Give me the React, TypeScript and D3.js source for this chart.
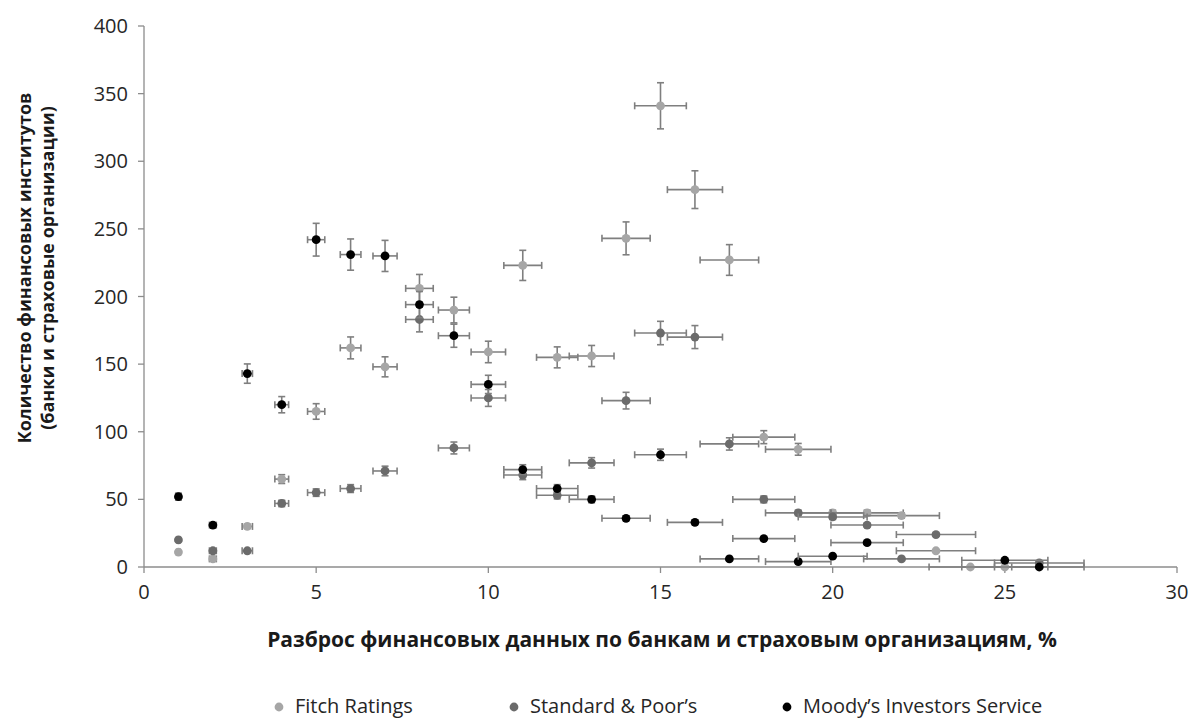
import React from 'react';
import * as d3 from 'd3';

// Scatter of rating agencies: spread (%) vs number of institutions
const seriesNames = ['Fitch Ratings', 'Standard & Poor’s', 'Moody’s Investors Service'];

const fitchX = [1, 2, 3, 4, 5, 6, 7, 8, 9, 10, 11, 12, 13, 14, 15, 16, 17, 18, 19, 20, 21, 22, 23, 24, 25];
const fitchY = [11, 6, 30, 65, 115, 162, 148, 206, 190, 159, 223, 155, 156, 243, 341, 279, 227, 96, 87, 40, 40, 38, 12, 0, 0];

const spX = [1, 2, 3, 4, 5, 6, 7, 8, 9, 10, 11, 12, 13, 14, 15, 16, 17, 18, 19, 20, 21, 22, 23, 26];
const spY = [20, 12, 12, 47, 55, 58, 71, 183, 88, 125, 68, 53, 77, 123, 173, 170, 91, 50, 40, 37, 31, 6, 24, 3];

const moodyX = [1, 2, 3, 4, 5, 6, 7, 8, 9, 10, 11, 12, 13, 14, 15, 16, 17, 18, 19, 20, 21, 25, 26];
const moodyY = [52, 31, 143, 120, 242, 231, 230, 194, 171, 135, 72, 58, 50, 36, 83, 33, 6, 21, 4, 8, 18, 5, 0];

const xTicks = [0, 5, 10, 15, 20, 25, 30];
const yTicks = [0, 50, 100, 150, 200, 250, 300, 350, 400];

// error bars are a fixed percentage of the value (both directions)
const ERR = 0.05;

const colors = ['#a6a6a6', '#6b6b6b', '#000000'];
const FONT = '"Open Sans", "Noto Sans", sans-serif';

const width = 1192;
const height = 718;

const App = () => {
  const x = d3.scaleLinear().domain([0, 30]).range([144, 1177]);
  const y = d3.scaleLinear().domain([0, 400]).range([567, 26]);

  const series = [
    { xs: fitchX, ys: fitchY },
    { xs: spX, ys: spY },
    { xs: moodyX, ys: moodyY },
  ];

  const cap = 3.5;
  const errColor = '#7f7f7f';

  return (
    <svg width={width} height={height} style={{ position: 'absolute', left: 0, top: 0 }} fontFamily={FONT}>
      <rect width={width} height={height} fill="#fff" />

      {/* axes */}
      <line x1={x(0)} x2={x(0)} y1={y(400)} y2={y(0)} stroke="#8c8c8c" strokeWidth={1.3} />
      <line x1={x(0)} x2={x(30)} y1={y(0)} y2={y(0)} stroke="#8c8c8c" strokeWidth={1.3} />
      {yTicks.map(t => (
        <g key={'y' + t}>
          <line x1={x(0) - 6} x2={x(0)} y1={y(t)} y2={y(t)} stroke="#8c8c8c" strokeWidth={1.3} />
          <text x={x(0) - 16} y={y(t)} dy="0.35em" textAnchor="end" fontSize={20} fill="#262626">{t}</text>
        </g>
      ))}
      {xTicks.map(t => (
        <g key={'x' + t}>
          <line x1={x(t)} x2={x(t)} y1={y(0)} y2={y(0) + 6} stroke="#8c8c8c" strokeWidth={1.3} />
          <text x={x(t)} y={599} textAnchor="middle" fontSize={20} fill="#262626">{t}</text>
        </g>
      ))}

      {/* series with error bars */}
      {series.map((s, si) => (
        <g key={si}>
          {s.xs.map((xv, i) => {
            const yv = s.ys[i];
            const dx = xv * ERR;
            const dy = yv * ERR;
            const cx = x(xv);
            const cy = y(yv);
            return (
              <g key={i} stroke={errColor} strokeWidth={1.6}>
                <line x1={x(xv - dx)} x2={x(xv + dx)} y1={cy} y2={cy} />
                <line x1={x(xv - dx)} x2={x(xv - dx)} y1={cy - cap} y2={cy + cap} />
                <line x1={x(xv + dx)} x2={x(xv + dx)} y1={cy - cap} y2={cy + cap} />
                {dy > 0 && (
                  <>
                    <line x1={cx} x2={cx} y1={y(yv - dy)} y2={y(yv + dy)} />
                    <line x1={cx - cap} x2={cx + cap} y1={y(yv - dy)} y2={y(yv - dy)} />
                    <line x1={cx - cap} x2={cx + cap} y1={y(yv + dy)} y2={y(yv + dy)} />
                  </>
                )}
                <circle cx={cx} cy={cy} r={4.4} fill={colors[si]} stroke="none" />
              </g>
            );
          })}
        </g>
      ))}

      {/* axis titles */}
      <text x={662} y={647} textAnchor="middle" fontSize={21} fontWeight="bold" fill="#1a1a1a">
        Разброс финансовых данных по банкам и страховым организациям, %
      </text>
      <g transform="translate(0,268) rotate(-90)" fontSize={18} fontWeight="bold" fill="#1a1a1a">
        <text x={0} y={31} textAnchor="middle">Количество финансовых институтов</text>
        <text x={0} y={54} textAnchor="middle">(банки и страховые организации)</text>
      </g>

      {/* legend */}
      {[279, 514, 787].map((lx, i) => (
        <g key={'lg' + i}>
          <circle cx={lx} cy={707} r={4.4} fill={colors[i]} />
          <text x={lx + 16} y={713} fontSize={20} fill="#262626">{seriesNames[i]}</text>
        </g>
      ))}
    </svg>
  );
};

export default App;
